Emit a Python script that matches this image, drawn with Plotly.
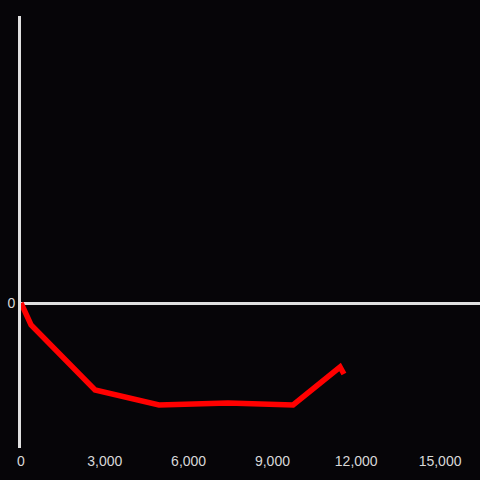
import plotly.graph_objects as go

x_vals = [0, 360, 2650, 4940, 7410, 9740, 11420, 11560]
y_vals = [0, -22, -87, -102, -100, -102, -64, -71]
x_ticks = [0, 3000, 6000, 9000, 12000, 15000]
x_tick_text = ["0", "3,000", "6,000", "9,000", "12,000", "15,000"]

fig = go.Figure()
fig.add_trace(go.Scatter(x=x_vals, y=y_vals, mode="lines",
                         line=dict(color="#ff0000", width=5.5, shape="linear"),
                         hoverinfo="skip", cliponaxis=False))
fig.update_layout(
    width=480, height=480,
    margin=dict(l=21, r=0, t=16, b=32),
    paper_bgcolor="#060508", plot_bgcolor="#060508",
    showlegend=False,
    font=dict(family="Liberation Sans, Arial, sans-serif", size=14, color="#d8d8d8"),
    xaxis=dict(range=[0, 16430], tickvals=x_ticks, ticktext=x_tick_text,
               showgrid=False, zeroline=False, showline=False, ticks="",
               ticklabelstandoff=3),
    yaxis=dict(range=[-145, 287], tickvals=[0], ticktext=["0"],
               showgrid=False, zeroline=True, zerolinecolor="#e0e0e0", zerolinewidth=3,
               showline=True, linecolor="#e0e0e0", linewidth=3, ticks=""),
)
fig.write_html("out.html", config={"displayModeBar": False},
               post_script="document.body.style.margin='0';document.body.style.background='#060508';")
